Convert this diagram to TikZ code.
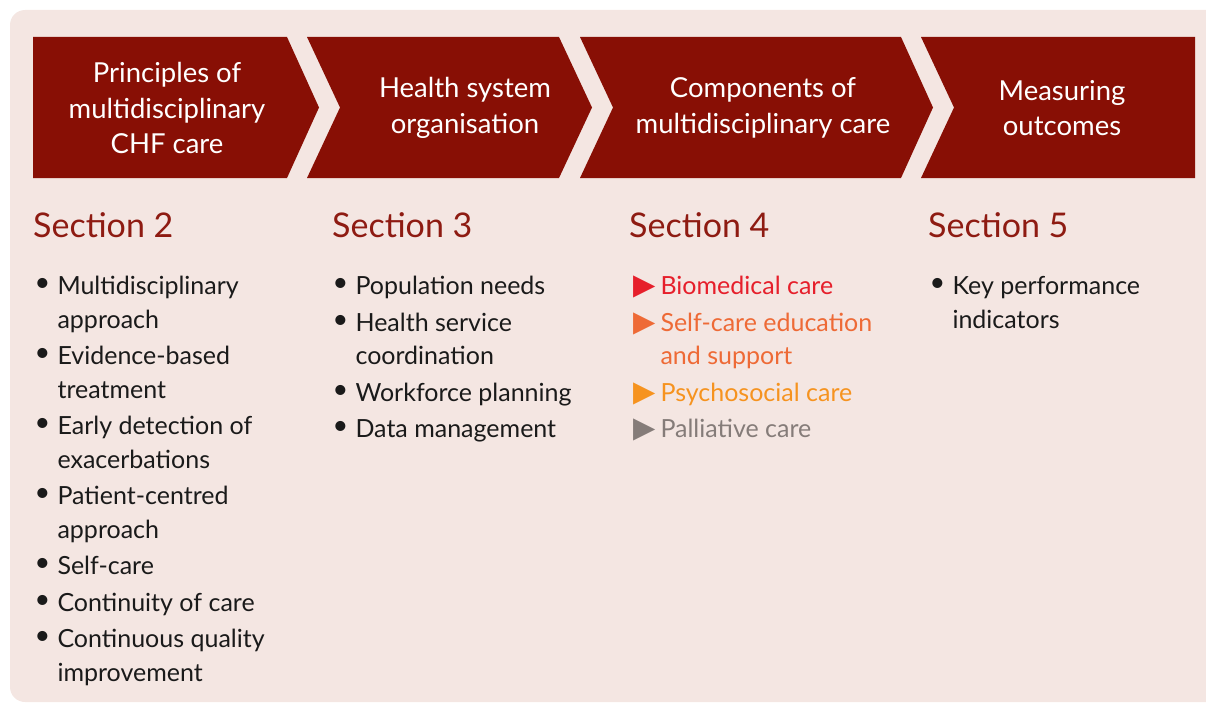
\documentclass[tikz,border=0pt]{standalone}
\usepackage{fontspec}
\setmainfont{Lato}
\newfontfamily\symfont{DejaVu Sans}
\usepackage{xcolor}
\usetikzlibrary{matrix,positioning}
\definecolor{panelbg}{HTML}{F4E6E2}
\definecolor{chevred}{HTML}{880F05}
\definecolor{secred}{HTML}{8E1B12}
\definecolor{biomed}{HTML}{E61F2B}
\definecolor{selfcare}{HTML}{EE6A36}
\definecolor{psycho}{HTML}{F6931F}
\definecolor{palli}{HTML}{857C79}
\definecolor{bodyblack}{HTML}{1A1A1A}
\newcommand{\listtri}{{\symfont\fontsize{29}{33.5}\selectfont ▶}}
\newcommand{\listdot}{\raisebox{3pt}{\fontsize{27}{33.5}\selectfont •}}

\begin{document}
\begin{tikzpicture}[
    x=1pt, y=-1pt,
    chevron/.style={fill=chevred},
    chevtext/.style={text=white, align=center, inner sep=0, font=\fontsize{27.5}{35.5}\selectfont},
    sechead/.style={text=secred, anchor=base west, inner sep=0, font=\fontsize{34}{40}\selectfont},
    sectlist/.style={
        matrix of nodes,
        row sep=0pt,
        column sep=0pt,
        nodes in empty cells,
        anchor=north west,
        nodes={inner sep=0, anchor=base west, text height=23pt, text depth=10.5pt, text=bodyblack, font=\fontsize{25}{33.5}\selectfont},
        column 1/.style={nodes={text width=23pt, align=left}}}]
\useasboundingbox (0,0) rectangle (1206,706);
\fill[panelbg, rounded corners=15pt] (10,10) rectangle (1225,702);

% chevrons
\fill[chevron] (33,37) -- (287,37) -- (319,107.5) -- (287,178) -- (33,178) -- cycle;
\fill[chevron] (307,37) -- (559,37) -- (592,107.5) -- (559,178) -- (307,178) -- (340,107.5) -- cycle;
\fill[chevron] (580,37) -- (901,37) -- (933,107.5) -- (901,178) -- (580,178) -- (613,107.5) -- cycle;
\fill[chevron] (921,37) -- (1195,37) -- (1195,178) -- (921,178) -- (954,107.5) -- cycle;

\node[chevtext] (hdprinc) at (167,108) {Principles of\\multidisciplinary\\CHF care};
\node[chevtext] (hdhealth) at (465,108) {Health system\\organisation};
\node[chevtext] (hdcomp) at (763,108) {Components of\\multidisciplinary care};
\node[chevtext] (hdmeas) at (1062,108) {Measuring\\outcomes};

% sections
\node[sechead] (sectwo) at (33,237) {Section 2};
\node[sechead] (secthree) at (332,237) {Section 3};
\node[sechead] (secfour) at (629,237) {Section 4};
\node[sechead] (secfive) at (928,237) {Section 5};

\matrix (listtwo) [sectlist, ampersand replacement=\&] at (31,268) {
 \listdot \& Multidisciplinary \\
          \& approach \\[3pt]
 \listdot \& Evidence-based \\
          \& treatment \\[3pt]
 \listdot \& Early detection of \\
          \& exacerbations \\[3pt]
 \listdot \& Patient-centred \\
          \& approach \\[3pt]
 \listdot \& Self-care \\[3pt]
 \listdot \& Continuity of care \\[3pt]
 \listdot \& Continuous quality \\
          \& improvement \\
};

\matrix (listthree) [sectlist, ampersand replacement=\&] at (329,268) {
 \listdot \& Population needs \\[3pt]
 \listdot \& Health service \\
          \& coordination \\[3pt]
 \listdot \& Workforce planning \\[3pt]
 \listdot \& Data management \\
};

\matrix (listfour) [sectlist, ampersand replacement=\&,
    column 1/.style={nodes={text width=27pt, align=left}},
    row 1/.style={nodes={text=biomed}},
    row 2/.style={nodes={text=selfcare}},
    row 3/.style={nodes={text=selfcare}},
    row 4/.style={nodes={text=psycho}},
    row 5/.style={nodes={text=palli}}] at (630,268) {
 \listtri \& Biomedical care \\[3pt]
 \listtri \& Self-care education \\
          \& and support \\[3pt]
 \listtri \& Psychosocial care \\[3pt]
 \listtri \& Palliative care \\
};

\matrix (listfive) [sectlist, ampersand replacement=\&] at (926,268) {
 \listdot \& Key performance \\
          \& indicators \\
};

\end{tikzpicture}
\end{document}
